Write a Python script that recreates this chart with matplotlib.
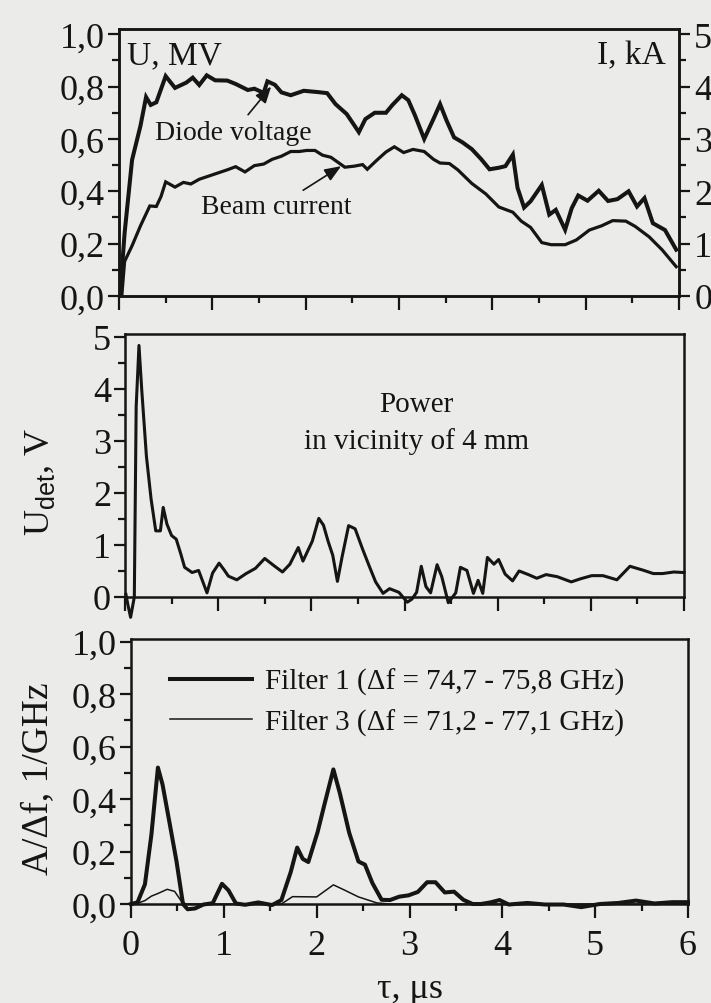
import numpy as np
import matplotlib
matplotlib.use("Agg")
import matplotlib.pyplot as plt
from matplotlib.ticker import MultipleLocator, FuncFormatter

plt.rcParams['font.family'] = ['Liberation Serif', 'DejaVu Serif']
plt.rcParams['mathtext.fontset'] = 'custom'
plt.rcParams['mathtext.rm'] = 'Liberation Serif'
plt.rcParams['mathtext.sf'] = 'Liberation Sans'

# diode voltage (MV) and beam current (kA) vs time (us)
t_volt = [0.01, 0.06, 0.14, 0.23, 0.29, 0.34, 0.40, 0.50, 0.60, 0.72, 0.79, 0.86, 0.94, 1.03,
          1.16, 1.25, 1.38, 1.45, 1.55, 1.59, 1.67, 1.74, 1.84, 1.98, 2.13, 2.23, 2.32, 2.44,
          2.57, 2.64, 2.74, 2.86, 2.93, 3.03, 3.10, 3.17, 3.27, 3.37, 3.44, 3.51, 3.59, 3.68,
          3.78, 3.88, 3.97, 4.07, 4.14, 4.22, 4.27, 4.34, 4.41, 4.53, 4.61, 4.68, 4.78, 4.85,
          4.92, 5.02, 5.14, 5.24, 5.34, 5.46, 5.55, 5.63, 5.72, 5.85, 5.97]
volt = [0.0, 0.24, 0.52, 0.65, 0.76, 0.73, 0.74, 0.84, 0.795, 0.815, 0.834, 0.806, 0.843, 0.824,
        0.823, 0.81, 0.787, 0.792, 0.776, 0.82, 0.807, 0.778, 0.767, 0.784, 0.779, 0.775, 0.733, 0.695,
        0.626, 0.676, 0.70, 0.70, 0.73, 0.767, 0.748, 0.691, 0.60, 0.677, 0.733, 0.67, 0.606, 0.587,
        0.561, 0.523, 0.484, 0.49, 0.496, 0.54, 0.413, 0.338, 0.362, 0.424, 0.311, 0.329, 0.253, 0.335,
        0.384, 0.364, 0.402, 0.363, 0.37, 0.40, 0.342, 0.374, 0.278, 0.252, 0.177]

t_curr = [0.03, 0.06, 0.14, 0.23, 0.33, 0.40, 0.45, 0.50, 0.60, 0.69, 0.77, 0.86, 1.01, 1.16,
          1.25, 1.35, 1.45, 1.55, 1.64, 1.74, 1.84, 1.93, 2.01, 2.10, 2.18, 2.27, 2.42, 2.52,
          2.61, 2.66, 2.76, 2.86, 2.95, 3.05, 3.15, 3.27, 3.37, 3.44, 3.54, 3.63, 3.78, 3.93,
          4.07, 4.22, 4.31, 4.41, 4.53, 4.63, 4.78, 4.90, 5.04, 5.17, 5.29, 5.43, 5.53, 5.68,
          5.82, 5.97]
curr = [0.0, 0.66, 0.96, 1.34, 1.72, 1.71, 1.90, 2.18, 2.08, 2.17, 2.14, 2.23, 2.32, 2.41,
        2.47, 2.37, 2.49, 2.52, 2.61, 2.67, 2.76, 2.76, 2.78, 2.78, 2.69, 2.65, 2.46, 2.48,
        2.51, 2.42, 2.59, 2.75, 2.85, 2.74, 2.80, 2.76, 2.61, 2.54, 2.53, 2.41, 2.15, 1.95,
        1.70, 1.60, 1.43, 1.31, 1.02, 0.98, 0.98, 1.07, 1.26, 1.34, 1.44, 1.43, 1.33, 1.13,
        0.88, 0.56]

# detector signal, V
t_det = [0.01, 0.03, 0.06, 0.10, 0.12, 0.15, 0.18, 0.23, 0.28, 0.33, 0.38, 0.41, 0.45, 0.50,
         0.55, 0.60, 0.64, 0.72, 0.79, 0.88, 0.94, 1.01, 1.06, 1.11, 1.20, 1.30, 1.40, 1.50,
         1.60, 1.69, 1.77, 1.86, 1.91, 2.01, 2.08, 2.13, 2.18, 2.23, 2.28, 2.33, 2.40, 2.47,
         2.55, 2.62, 2.69, 2.77, 2.84, 2.94, 3.03, 3.08, 3.13, 3.18, 3.23, 3.28, 3.35, 3.40,
         3.47, 3.55, 3.60, 3.67, 3.74, 3.79, 3.84, 3.89, 3.96, 4.01, 4.08, 4.16, 4.23, 4.33,
         4.42, 4.52, 4.64, 4.79, 4.89, 5.01, 5.13, 5.28, 5.42, 5.57, 5.67, 5.77, 5.89, 6.0]
u_det = [0.05, -0.14, -0.39, 0.0, 3.66, 4.83, 3.97, 2.70, 1.88, 1.27, 1.27, 1.72, 1.40, 1.18,
         1.11, 0.82, 0.57, 0.47, 0.51, 0.08, 0.46, 0.65, 0.53, 0.40, 0.33, 0.45, 0.55, 0.74,
         0.60, 0.48, 0.63, 0.95, 0.69, 1.07, 1.51, 1.38, 1.07, 0.80, 0.30, 0.77, 1.37, 1.31,
         0.92, 0.60, 0.29, 0.07, 0.16, 0.09, -0.10, -0.04, 0.09, 0.59, 0.20, 0.08, 0.62, 0.39,
         -0.11, 0.08, 0.57, 0.51, 0.07, 0.32, 0.07, 0.76, 0.63, 0.72, 0.44, 0.31, 0.50, 0.43,
         0.36, 0.43, 0.39, 0.29, 0.35, 0.41, 0.41, 0.33, 0.59, 0.51, 0.45, 0.45, 0.48, 0.47]

# spectral density behind the two filters, 1/GHz
t_f1 = [0.0, 0.07, 0.15, 0.22, 0.29, 0.34, 0.42, 0.49, 0.56, 0.61, 0.69, 0.78, 0.88, 0.98,
        1.05, 1.13, 1.23, 1.37, 1.52, 1.62, 1.72, 1.79, 1.85, 1.91, 2.01, 2.08, 2.18, 2.25,
        2.35, 2.45, 2.52, 2.60, 2.70, 2.79, 2.89, 2.99, 3.09, 3.19, 3.28, 3.38, 3.48, 3.58,
        3.68, 3.77, 3.87, 3.97, 4.07, 4.27, 4.46, 4.66, 4.85, 5.05, 5.25, 5.44, 5.64, 5.83, 6.0]
a_f1 = [0.0, 0.006, 0.075, 0.265, 0.52, 0.455, 0.30, 0.163, 0.0, -0.02, -0.017, -0.002, 0.003, 0.077,
        0.052, 0.002, -0.003, 0.006, -0.004, 0.015, 0.121, 0.215, 0.172, 0.16, 0.274, 0.374, 0.513, 0.422,
        0.272, 0.162, 0.15, 0.08, 0.016, 0.015, 0.028, 0.033, 0.046, 0.083, 0.083, 0.044, 0.047, 0.016,
        0.0, 0.0, 0.006, 0.015, -0.002, 0.004, -0.002, -0.002, -0.012, 0.0, 0.004, 0.013, 0.002, 0.007, 0.007]

t_f3 = [0.05, 0.15, 0.22, 0.29, 0.39, 0.47, 0.54, 0.59, 1.50, 1.62, 1.74, 2.0, 2.18, 2.30,
        2.45, 2.65, 2.79, 6.0]
a_f3 = [0.0, 0.013, 0.03, 0.04, 0.056, 0.048, 0.012, 0.0, 0.0, 0.0, 0.028, 0.027, 0.073, 0.053,
        0.027, 0.004, 0.0, 0.0]

paper = '#ebebe9'
ink = '#151515'
comma = FuncFormatter(lambda v, p: f'{v:.1f}'.replace('.', ','))
intfmt = FuncFormatter(lambda v, p: f'{v:.0f}')

fig = plt.figure(figsize=(7.11, 10.04), dpi=100, facecolor=paper)
ax1 = fig.add_axes([119/711, 1-297/1004, 560/711, 267/1004])
ax2 = fig.add_axes([125/711, 1-598/1004, 559/711, 263/1004])
ax3 = fig.add_axes([131/711, 1-905/1004, 557/711, 265/1004])


def style(ax, ymaj, ymin):
    ax.set_facecolor(paper)
    for s in ax.spines.values():
        s.set_linewidth(1.8)
        s.set_color(ink)
    ax.set_xlim(0, 6)
    ax.xaxis.set_major_locator(MultipleLocator(1))
    ax.xaxis.set_minor_locator(MultipleLocator(0.5))
    ax.yaxis.set_major_locator(MultipleLocator(ymaj))
    ax.yaxis.set_minor_locator(MultipleLocator(ymin))
    ax.tick_params(which='both', direction='out', color=ink, width=1.6, labelsize=26,
                   labelcolor=ink, pad=2)
    ax.tick_params(which='major', length=8)
    ax.tick_params(which='minor', length=5)
    ax.tick_params(axis='x', which='major', length=10)


# top: voltage and current
style(ax1, 0.2, 0.1)
ax1.set_ylim(0, 1.02)
ax1.yaxis.set_major_formatter(comma)
ax1.set_xticklabels([])
ax1.plot(t_volt, volt, color=ink, lw=2.9, solid_joinstyle='miter')
ax1b = ax1.twinx()
ax1b.set_ylim(0, 5.1)
ax1b.yaxis.set_major_locator(MultipleLocator(1))
ax1b.yaxis.set_minor_locator(MultipleLocator(0.5))
ax1b.yaxis.set_major_formatter(intfmt)
ax1b.tick_params(which='both', direction='out', color=ink, width=1.6, labelsize=26,
                 labelcolor=ink, pad=3)
ax1b.tick_params(which='major', length=8)
ax1b.tick_params(which='minor', length=5)
for s in ax1b.spines.values():
    s.set_linewidth(1.8)
    s.set_color(ink)
ax1b.plot(t_curr, curr, color=ink, lw=2.3, solid_joinstyle='miter')
ax1.text(0.09, 0.92, 'U, MV', fontsize=24, ha='left', va='center', color=ink)
ax1.text(5.86, 0.92, 'I, kA', fontsize=24, ha='right', va='center', color=ink)
arrow = dict(arrowstyle='-|>,head_length=0.5,head_width=0.2', color=ink, lw=1.2,
             shrinkA=2, shrinkB=0)
ax1.annotate('Diode voltage', xy=(1.63, 0.80), xytext=(1.23, 0.626), fontsize=20,
             ha='center', va='center', color=ink, arrowprops=arrow)
ax1.annotate('Beam current', xy=(2.38, 0.496), xytext=(1.69, 0.34), fontsize=20,
             ha='center', va='center', color=ink, arrowprops=arrow)

# middle: detector signal
style(ax2, 1, 0.5)
ax2.set_ylim(0, 5.05)
ax2.yaxis.set_major_formatter(intfmt)
ax2.set_xticklabels([])
ax2.plot(t_det, u_det, color=ink, lw=2.2, clip_on=False)
ax2.text(3.13, 3.35, 'Power\nin vicinity of 4 mm', fontsize=21, ha='center', va='center',
         multialignment='center', linespacing=1.5, color=ink)
fig.text(40/711, 1-482/1004, r'U$_{\mathsf{det}}$, V', rotation=90, fontsize=26,
         ha='center', va='center', color=ink)

# bottom: filters
style(ax3, 0.2, 0.1)
ax3.set_ylim(0, 1.01)
ax3.yaxis.set_major_formatter(comma)
ax3.tick_params(axis='x', which='major', pad=8)
ax3.plot(t_f1, a_f1, color=ink, lw=2.9, clip_on=False, label='Filter 1 (Δf = 74,7 - 75,8 GHz)')
ax3.plot(t_f3, a_f3, color=ink, lw=1.1, clip_on=False, label='Filter 3 (Δf = 71,2 - 77,1 GHz)')
ax3.legend(loc='upper left', bbox_to_anchor=(0.07, 0.89), frameon=False, fontsize=21,
           handlelength=2.8, handletextpad=0.45, labelspacing=0.45, borderpad=0,
           borderaxespad=0, labelcolor=ink)
fig.text(38/711, 1-779/1004, 'A/Δf, 1/GHz', rotation=90, fontsize=27,
         ha='center', va='center', color=ink)
ax3.set_xlabel('τ, μs', fontsize=26, color=ink, labelpad=7)

fig.savefig('out.png', dpi=100, facecolor=paper)
